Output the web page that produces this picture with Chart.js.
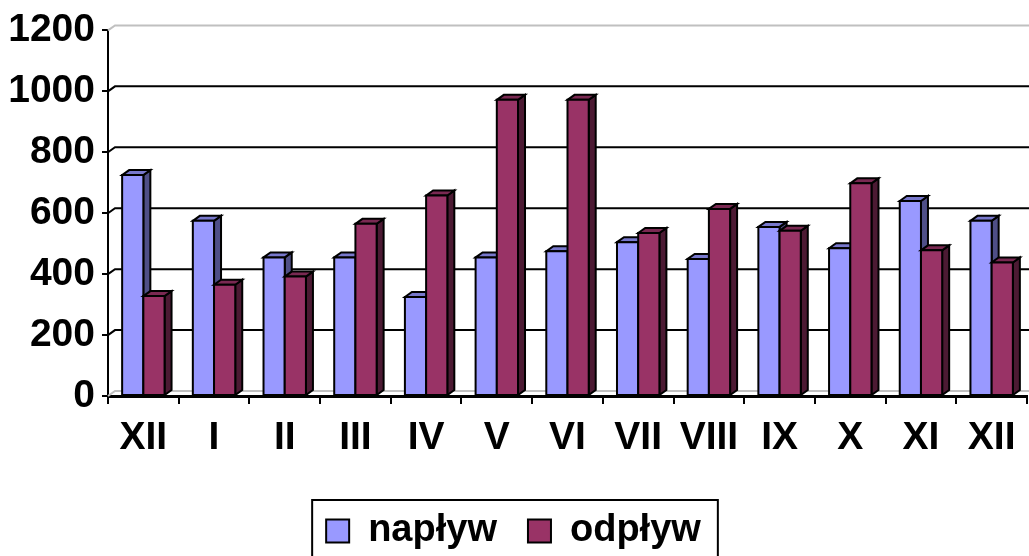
<!DOCTYPE html>
<html>
<head>
<meta charset="utf-8">
<script src="https://cdn.jsdelivr.net/npm/chart.js@4"></script>
<style>
    html, body { margin: 0; padding: 0; background: #fff; }
    #wrap { width: 1029px; height: 556px; position: relative; }
</style>
</head>
<body>
<div id="wrap"><canvas id="flowChart"></canvas></div>
<script>
const months = ["XII", "I", "II", "III", "IV", "V", "VI", "VII", "VIII", "IX", "X", "XI", "XII"];
const naplyw = [725, 575, 455, 455, 325, 455, 475, 505, 450, 555, 485, 640, 575];
const odplyw = [328, 365, 392, 565, 658, 972, 972, 535, 614, 542, 698, 478, 438];
const yTicks = [0, 200, 400, 600, 800, 1000, 1200];

const depthX = 7;
const depthY = 5;

const shades = {
    "napływ": { front: "#9999FF", side: "#4F4F87", top: "#7878CC" },
    "odpływ": { front: "#993366", side: "#4C1A33", top: "#7A2952" }
};

function face(ctx, pts, fill) {
    ctx.beginPath();
    ctx.moveTo(pts[0][0], pts[0][1]);
    for (let i = 1; i < pts.length; i++) ctx.lineTo(pts[i][0], pts[i][1]);
    ctx.closePath();
    ctx.fillStyle = fill;
    ctx.fill();
    ctx.stroke();
}

// back wall grid + 3d faces of the bars
const bars3d = {
    id: "bars3d",
    beforeDatasetsDraw(chart) {
        const { ctx, chartArea, scales } = chart;
        ctx.save();
        ctx.lineWidth = 2;
        yTicks.forEach(v => {
            const py = scales.y.getPixelForValue(v);
            ctx.strokeStyle = (v === 0 || v === 1200) ? "#C0C0C0" : "#000";
            ctx.beginPath();
            ctx.moveTo(chartArea.left, py);
            ctx.lineTo(chartArea.left + depthX, py - depthY);
            ctx.lineTo(chartArea.right + 4, py - depthY);
            ctx.stroke();
        });
        ctx.restore();
    },
    afterDatasetsDraw(chart) {
        const { ctx } = chart;
        const metas = chart.getSortedVisibleDatasetMetas().slice().sort((a, b) => a.index - b.index);
        ctx.save();
        ctx.strokeStyle = "#000";
        ctx.lineWidth = 2;
        ctx.lineJoin = "miter";
        for (let i = 0; i < months.length; i++) {
            metas.forEach(meta => {
                const bar = meta.data[i];
                const c = shades[chart.data.datasets[meta.index].label];
                const { x, y, base, width } = bar.getProps(["x", "y", "base", "width"], true);
                const l = x - width / 2;
                const r = x + width / 2;
                face(ctx, [[r, y], [r + depthX, y - depthY], [r + depthX, base - depthY], [r, base]], c.side);
                face(ctx, [[l, y], [l + depthX, y - depthY], [r + depthX, y - depthY], [r, y]], c.top);
                face(ctx, [[l, y], [r, y], [r, base], [l, base]], c.front);
            });
        }
        ctx.restore();
    },
    afterDraw(chart) {
        // frame round the legend
        const boxes = chart.legend && chart.legend.legendHitBoxes;
        if (!boxes || !boxes.length) return;
        const first = boxes[0];
        const last = boxes[boxes.length - 1];
        const ctx = chart.ctx;
        ctx.save();
        ctx.strokeStyle = "#000";
        ctx.lineWidth = 2;
        ctx.strokeRect(first.left - 14, first.top - 12, last.left + last.width - first.left + 31, 90);
        ctx.restore();
    }
};

Chart.defaults.font.family = "'Liberation Sans', Arial, sans-serif";
Chart.defaults.color = "#000";

const ctx = document.getElementById("flowChart").getContext("2d");

new Chart(ctx, {
    type: "bar",
    data: {
        labels: months,
        datasets: [{
            label: "napływ",
            data: naplyw,
            backgroundColor: "#9999FF",
            borderColor: "#000",
            borderWidth: 2
        }, {
            label: "odpływ",
            data: odplyw,
            backgroundColor: "#993366",
            borderColor: "#000",
            borderWidth: 2
        }]
    },
    options: {
        responsive: true,
        maintainAspectRatio: false,
        animation: false,
        layout: { padding: { top: 6, right: 2, left: 0, bottom: -4 } },
        datasets: {
            bar: { categoryPercentage: 0.6, barPercentage: 1.0 }
        },
        scales: {
            x: {
                offset: true,
                grid: {
                    offset: true,
                    drawOnChartArea: false,
                    tickLength: 8,
                    color: "#000",
                    lineWidth: 2
                },
                border: { display: true, color: "#000", width: 3 },
                ticks: {
                    font: { size: 39, weight: "bold" },
                    padding: 11,
                    maxRotation: 0,
                    autoSkip: false
                },
                afterFit(scale) { scale.height = 85; }
            },
            y: {
                min: 0,
                max: 1200,
                grid: {
                    drawOnChartArea: false,
                    tickLength: 6,
                    color: "#000",
                    lineWidth: 2
                },
                border: { display: true, color: "#000", width: 2 },
                ticks: {
                    stepSize: 200,
                    font: { size: 39, weight: "bold" },
                    padding: 7,
                    callback: value => String(value)
                },
                afterFit(scale) { scale.width = 108; }
            }
        },
        plugins: {
            legend: {
                position: "bottom",
                labels: {
                    boxWidth: 23,
                    boxHeight: 23,
                    padding: 31,
                    font: { size: 38, weight: "bold" }
                }
            },
            tooltip: { enabled: false }
        }
    },
    plugins: [bars3d]
});
</script>
</body>
</html>
